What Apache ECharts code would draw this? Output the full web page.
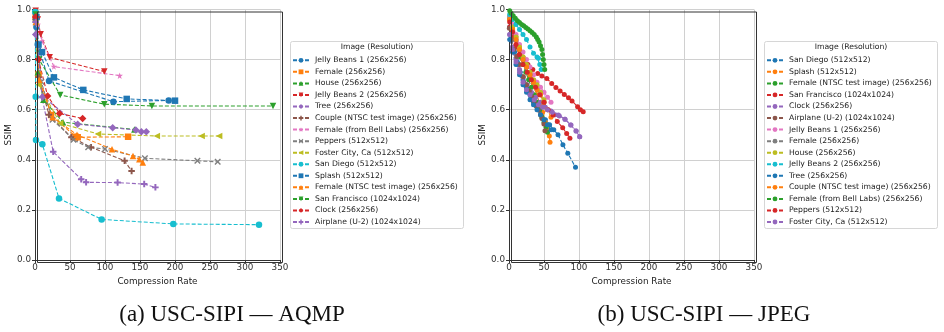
<!DOCTYPE html>
<html>
<head>
<meta charset="utf-8">
<script src="https://cdn.jsdelivr.net/npm/echarts@6/dist/echarts.min.js"></script>
<style>
  html, body { margin: 0; padding: 0; background: #fff; }
  #chart { width: 944px; height: 332px; }
</style>
</head>
<body>
<div id="chart"></div>
<script>
// tab10
var colors = ['#1f77b4','#ff7f0e','#2ca02c','#d62728','#9467bd','#8c564b','#e377c2','#7f7f7f','#bcbd22','#17becf'];

// ---- (a) AQMP ----
var aqmpNames = [
  'Jelly Beans 1 (256x256)', 'Female (256x256)', 'House (256x256)', 'Jelly Beans 2 (256x256)',
  'Tree (256x256)', 'Couple (NTSC test image) (256x256)', 'Female (from Bell Labs) (256x256)',
  'Peppers (512x512)', 'Foster City, Ca (512x512)', 'San Diego (512x512)', 'Splash (512x512)',
  'Female (NTSC test image) (256x256)', 'San Francisco (1024x1024)', 'Clock (256x256)',
  'Airplane (U-2) (1024x1024)'
];
var aJellyBeans1 = [[0.5, 0.99], [2, 0.93], [4, 0.86], [20, 0.715], [112, 0.632], [191, 0.637]];
var aFemale = [[1, 0.97], [5, 0.74], [23, 0.579], [58, 0.492], [61, 0.49], [133, 0.492]];
var aHouse = [[1, 0.96], [4, 0.75], [12, 0.64], [40, 0.55], [142, 0.521]];
var aJellyBeans2 = [[1, 0.995], [4, 0.96], [8, 0.901], [21, 0.809], [99, 0.752]];
var aTree = [[1, 0.9], [11, 0.652], [61, 0.542], [111, 0.528], [144, 0.519], [152, 0.512], [159, 0.512]];
var aCouple = [[1, 0.96], [5, 0.73], [20, 0.58], [52, 0.49], [80, 0.45], [128, 0.396], [138, 0.355]];
var aFemaleBell = [[1, 0.99], [4, 0.94], [10, 0.874], [27, 0.772], [121, 0.736]];
var aPeppers = [[1, 0.96], [9, 0.712], [25, 0.56], [55, 0.48], [76, 0.45], [100, 0.443], [157, 0.406], [232, 0.396], [261, 0.392]];
var aFosterCity = [[1, 0.95], [5, 0.7], [36, 0.546], [90, 0.503], [174, 0.495], [238, 0.495], [263, 0.495]];
var aSanDiego = [[0.3, 0.99], [1, 0.652], [1.4, 0.479], [10.5, 0.462], [34.3, 0.246], [95.2, 0.162], [197.6, 0.144], [320, 0.141]];
var aSplash = [[2, 0.97], [5, 0.86], [10, 0.83], [27, 0.729], [69, 0.679], [131, 0.643], [200, 0.636]];
var aFemaleNtsc = [[1, 0.95], [6, 0.72], [25, 0.57], [60, 0.5], [110, 0.442], [140, 0.415], [149, 0.402], [154, 0.389]];
var aSanFrancisco = [[1, 0.98], [6, 0.8], [36, 0.659], [99, 0.622], [167, 0.615], [340, 0.615]];
var aClock = [[1, 0.97], [5, 0.8], [18, 0.655], [35, 0.585], [68, 0.565]];
var aAirplane = [[1, 0.95], [10, 0.65], [26, 0.432], [66, 0.322], [73, 0.31], [118, 0.309], [156, 0.303], [172, 0.29]];
var aqmpData = [aJellyBeans1, aFemale, aHouse, aJellyBeans2, aTree, aCouple, aFemaleBell, aPeppers,
  aFosterCity, aSanDiego, aSplash, aFemaleNtsc, aSanFrancisco, aClock, aAirplane];

// ---- (b) JPEG ----
var jpegNames = [
  'San Diego (512x512)', 'Splash (512x512)', 'Female (NTSC test image) (256x256)',
  'San Francisco (1024x1024)', 'Clock (256x256)', 'Airplane (U-2) (1024x1024)',
  'Jelly Beans 1 (256x256)', 'Female (256x256)', 'House (256x256)', 'Jelly Beans 2 (256x256)',
  'Tree (256x256)', 'Couple (NTSC test image) (256x256)', 'Female (from Bell Labs) (256x256)',
  'Peppers (512x512)', 'Foster City, Ca (512x512)'
];
var jSanDiego = [[1, 0.93], [4, 0.88], [8, 0.83], [12, 0.79], [16, 0.75], [20, 0.72], [25, 0.69], [30, 0.66], [35, 0.63], [40, 0.61], [46, 0.58], [52, 0.56], [58, 0.54], [64, 0.52], [70, 0.5], [77, 0.46], [84, 0.426], [95, 0.37]];
var jSplash = [[1, 0.97], [5, 0.93], [10, 0.89], [15, 0.85], [20, 0.81], [25, 0.77], [30, 0.73], [35, 0.7], [40, 0.66], [44, 0.62], [48, 0.59], [52, 0.55], [55, 0.52], [57.6, 0.495], [58.6, 0.47]];
var jFemaleNtsc = [[1, 0.97], [4, 0.93], [8, 0.89], [12, 0.85], [16, 0.81], [20, 0.78], [24, 0.75], [28, 0.72], [32, 0.69], [36, 0.66], [40, 0.63], [44, 0.6], [47, 0.57], [50, 0.55], [53, 0.53], [55, 0.51]];
var jSanFrancisco = [[1, 0.93], [5, 0.89], [10, 0.85], [15, 0.82], [20, 0.8], [27, 0.78], [34, 0.76], [41, 0.745], [47, 0.735], [54, 0.725], [61, 0.705], [67, 0.689], [73, 0.675], [79, 0.661], [85, 0.648], [90, 0.635], [98, 0.612], [102, 0.6], [106, 0.592]];
var jClock = [[1, 0.9], [5, 0.85], [10, 0.8], [15, 0.76], [20, 0.73], [26, 0.7], [32, 0.67], [38, 0.65], [45, 0.63], [52, 0.61], [60, 0.595], [66, 0.58], [72, 0.575], [80, 0.562], [88, 0.539], [96, 0.515], [101, 0.492]];
var jAirplane = [[0.5, 0.925], [3, 0.88], [7, 0.84], [11, 0.812], [15, 0.78], [20.5, 0.732], [25, 0.7], [29, 0.675], [32.4, 0.652], [36, 0.63], [39, 0.615], [42, 0.599], [45, 0.58], [47, 0.565], [49.9, 0.543], [51.4, 0.516]];
var jJellyBeans1 = [[1, 0.97], [5, 0.94], [10, 0.9], [15, 0.86], [20, 0.83], [25, 0.8], [30, 0.77], [35, 0.74], [40, 0.71], [45, 0.69], [50, 0.67], [55, 0.65], [60, 0.63]];
var jFemale = [[1, 0.96], [5, 0.92], [10, 0.88], [15, 0.84], [20, 0.8], [25, 0.77], [30, 0.74], [35, 0.71], [40, 0.68], [45, 0.66], [50, 0.63], [55, 0.6]];
var jHouse = [[1, 0.96], [5, 0.93], [10, 0.89], [15, 0.85], [20, 0.81], [25, 0.78], [30, 0.75], [35, 0.72], [40, 0.7], [45, 0.67], [50, 0.64]];
var jJellyBeans2 = [[1, 0.98], [5, 0.96], [10, 0.94], [15, 0.92], [20, 0.9], [25, 0.88], [30, 0.85], [35, 0.825], [40, 0.81], [42, 0.805], [44, 0.78], [46, 0.76]];
var jTree = [[1, 0.88], [5, 0.83], [10, 0.78], [15, 0.74], [20, 0.7], [25, 0.67], [30, 0.64], [35, 0.62], [40, 0.6], [45, 0.58], [50, 0.56], [55, 0.54], [60, 0.52]];
var jCouple = [[1, 0.96], [5, 0.92], [10, 0.88], [15, 0.84], [20, 0.8], [25, 0.77], [30, 0.74], [35, 0.71], [40, 0.68], [45, 0.66], [50, 0.63], [55, 0.6], [60, 0.57]];
var jFemaleBell = [[1, 0.995], [3, 0.985], [6, 0.975], [9, 0.965], [12, 0.955], [15, 0.948], [18, 0.94], [21, 0.935], [24, 0.928], [27, 0.922], [30, 0.915], [33, 0.908], [36, 0.9], [39, 0.89], [41, 0.88], [43, 0.87], [45, 0.855], [47, 0.84], [48, 0.82], [49, 0.8], [50, 0.78], [51, 0.76]];
var jPeppers = [[1, 0.95], [5, 0.91], [10, 0.86], [15, 0.82], [20, 0.78], [26, 0.75], [32, 0.72], [38, 0.69], [44, 0.66], [50, 0.63], [56, 0.6], [63, 0.579], [69, 0.553], [76.7, 0.528], [82.4, 0.505], [87, 0.486]];
var jFosterCity = [[1, 0.9], [5, 0.84], [10, 0.79], [15, 0.75], [20, 0.71], [25, 0.68], [30, 0.66], [36, 0.64], [42, 0.62], [48, 0.61], [55, 0.6], [62, 0.59], [70.5, 0.579], [80, 0.562], [88.6, 0.539], [95.7, 0.515], [101, 0.492]];
var jpegData = [jSanDiego, jSplash, jFemaleNtsc, jSanFrancisco, jClock, jAirplane, jJellyBeans1, jFemale,
  jHouse, jJellyBeans2, jTree, jCouple, jFemaleBell, jPeppers, jFosterCity];

// matplotlib-like markers
var mkDown = 'path://M0,0 L10,0 L5,10 Z';
var mkLeft = 'path://M0,5 L10,0 L10,10 Z';
var mkPlus = 'path://M3.5,0 H6.5 V3.5 H10 V6.5 H6.5 V10 H3.5 V6.5 H0 V3.5 H3.5 Z';
var mkStar = 'path://M5,0 L6.2,3.6 L10,3.6 L6.9,5.9 L8.1,9.5 L5,7.3 L1.9,9.5 L3.1,5.9 L0,3.6 L3.8,3.6 Z';
var mkX = 'path://M1.5,0 L5,3.5 L8.5,0 L10,1.5 L6.5,5 L10,8.5 L8.5,10 L5,6.5 L1.5,10 L0,8.5 L3.5,5 L0,1.5 Z';
var markers = ['circle', 'rect', 'triangle', mkDown, 'diamond', mkPlus, mkStar, mkX, mkLeft];

var dom = document.getElementById('chart');
var myChart = echarts.init(dom, null, { renderer: 'canvas' });

var tickFont = 8.8;
var legendFont = 7.7;

function makeAxisX(gi) {
  return {
    gridIndex: gi, type: 'value', min: 0, max: 350, interval: 50,
    name: 'Compression Rate', nameLocation: 'middle', nameGap: 14,
    nameTextStyle: { fontFamily: 'DejaVu Sans', fontSize: tickFont, color: '#222' },
    axisLine: { show: true, onZero: false, lineStyle: { color: '#333', width: 1 } },
    axisTick: { show: true, length: 3, lineStyle: { color: '#333' } },
    axisLabel: { fontFamily: 'DejaVu Sans', fontSize: tickFont, color: '#333', margin: 3 },
    splitLine: { show: true, lineStyle: { color: '#d0d0d0', width: 1 } }
  };
}
function makeAxisY(gi) {
  return {
    gridIndex: gi, type: 'value', min: 0, max: 1, interval: 0.2,
    name: 'SSIM', nameLocation: 'middle', nameGap: 17, nameRotate: 90,
    nameTextStyle: { fontFamily: 'DejaVu Sans', fontSize: tickFont, color: '#222' },
    axisLine: { show: true, onZero: false, lineStyle: { color: '#333', width: 1 } },
    axisTick: { show: true, length: 3, lineStyle: { color: '#333' } },
    axisLabel: { fontFamily: 'DejaVu Sans', fontSize: tickFont, color: '#333', margin: 4,
      formatter: function (v) { return v.toFixed(1); } },
    splitLine: { show: true, lineStyle: { color: '#d0d0d0', width: 1 } }
  };
}

var series = [];
for (var i = 0; i < aqmpNames.length; i++) {
  var mk = markers[i % markers.length];
  series.push({
    name: aqmpNames[i], type: 'line', xAxisIndex: 0, yAxisIndex: 0,
    data: aqmpData[i], symbol: mk, symbolSize: mk === 'diamond' ? 7.5 : 6.5,
    itemStyle: { color: colors[i % 10] },
    lineStyle: { type: [4, 2], width: 1.1, color: colors[i % 10] },
    animation: false, z: 2
  });
}
// JPEG series names get a trailing space so the two legends stay separate
for (var i = 0; i < jpegNames.length; i++) {
  series.push({
    name: jpegNames[i] + ' ', type: 'line', xAxisIndex: 1, yAxisIndex: 1,
    data: jpegData[i], symbol: 'circle', symbolSize: 5,
    itemStyle: { color: colors[i % 10] },
    lineStyle: { type: [4, 2], width: 1.1, color: colors[i % 10] },
    animation: false, z: 2
  });
}

function makeLegend(names, left) {
  return {
    orient: 'vertical', left: left, top: 41,
    data: names,
    padding: [13.5, 2, 2, 2],
    itemWidth: 16, itemHeight: 6, itemGap: 0,
    textStyle: { fontFamily: 'DejaVu Sans', fontSize: legendFont, color: '#222', lineHeight: 11.55, padding: [0, 0, 0, 1] },
    selectedMode: false
  };
}

var option = {
  backgroundColor: '#fff',
  animation: false,
  grid: [
    { left: 35, top: 9.5, width: 245, height: 250.5 },
    { left: 509, top: 9.5, width: 245, height: 250.5 }
  ],
  xAxis: [makeAxisX(0), makeAxisX(1)],
  yAxis: [makeAxisY(0), makeAxisY(1)],
  legend: [
    makeLegend(aqmpNames, 290),
    makeLegend(jpegNames.map(function (n) { return n + ' '; }), 764)
  ],
  series: series,
  graphic: [
    { type: 'rect', left: 35, top: 9.5, shape: { width: 245, height: 250.5 }, style: { fill: 'none', stroke: '#333', lineWidth: 1 }, silent: true, z: 10 },
    { type: 'rect', left: 509, top: 9.5, shape: { width: 245, height: 250.5 }, style: { fill: 'none', stroke: '#333', lineWidth: 1 }, silent: true, z: 10 },
    { type: 'rect', shape: { x: 290.5, y: 41.5, width: 173, height: 187, r: 2 }, style: { fill: 'none', stroke: '#d6d6d6', lineWidth: 1 }, silent: true, z: 10 },
    { type: 'rect', shape: { x: 764.5, y: 41.5, width: 173, height: 187, r: 2 }, style: { fill: 'none', stroke: '#d6d6d6', lineWidth: 1 }, silent: true, z: 10 },
    { type: 'text', x: 377, y: 47.5, style: { text: 'Image (Resolution)', font: legendFont + 'px "DejaVu Sans"', fill: '#222', align: 'center', verticalAlign: 'middle' }, z: 20 },
    { type: 'text', x: 851, y: 47.5, style: { text: 'Image (Resolution)', font: legendFont + 'px "DejaVu Sans"', fill: '#222', align: 'center', verticalAlign: 'middle' }, z: 20 },
    { type: 'text', x: 232, y: 315, style: { text: '(a) USC-SIPI \u2014 AQMP', font: '23px "Liberation Serif"', fill: '#111', align: 'center', verticalAlign: 'middle' } },
    { type: 'text', x: 704, y: 315, style: { text: '(b) USC-SIPI \u2014 JPEG', font: '23px "Liberation Serif"', fill: '#111', align: 'center', verticalAlign: 'middle' } }
  ]
};
myChart.setOption(option);
</script>
</body>
</html>
